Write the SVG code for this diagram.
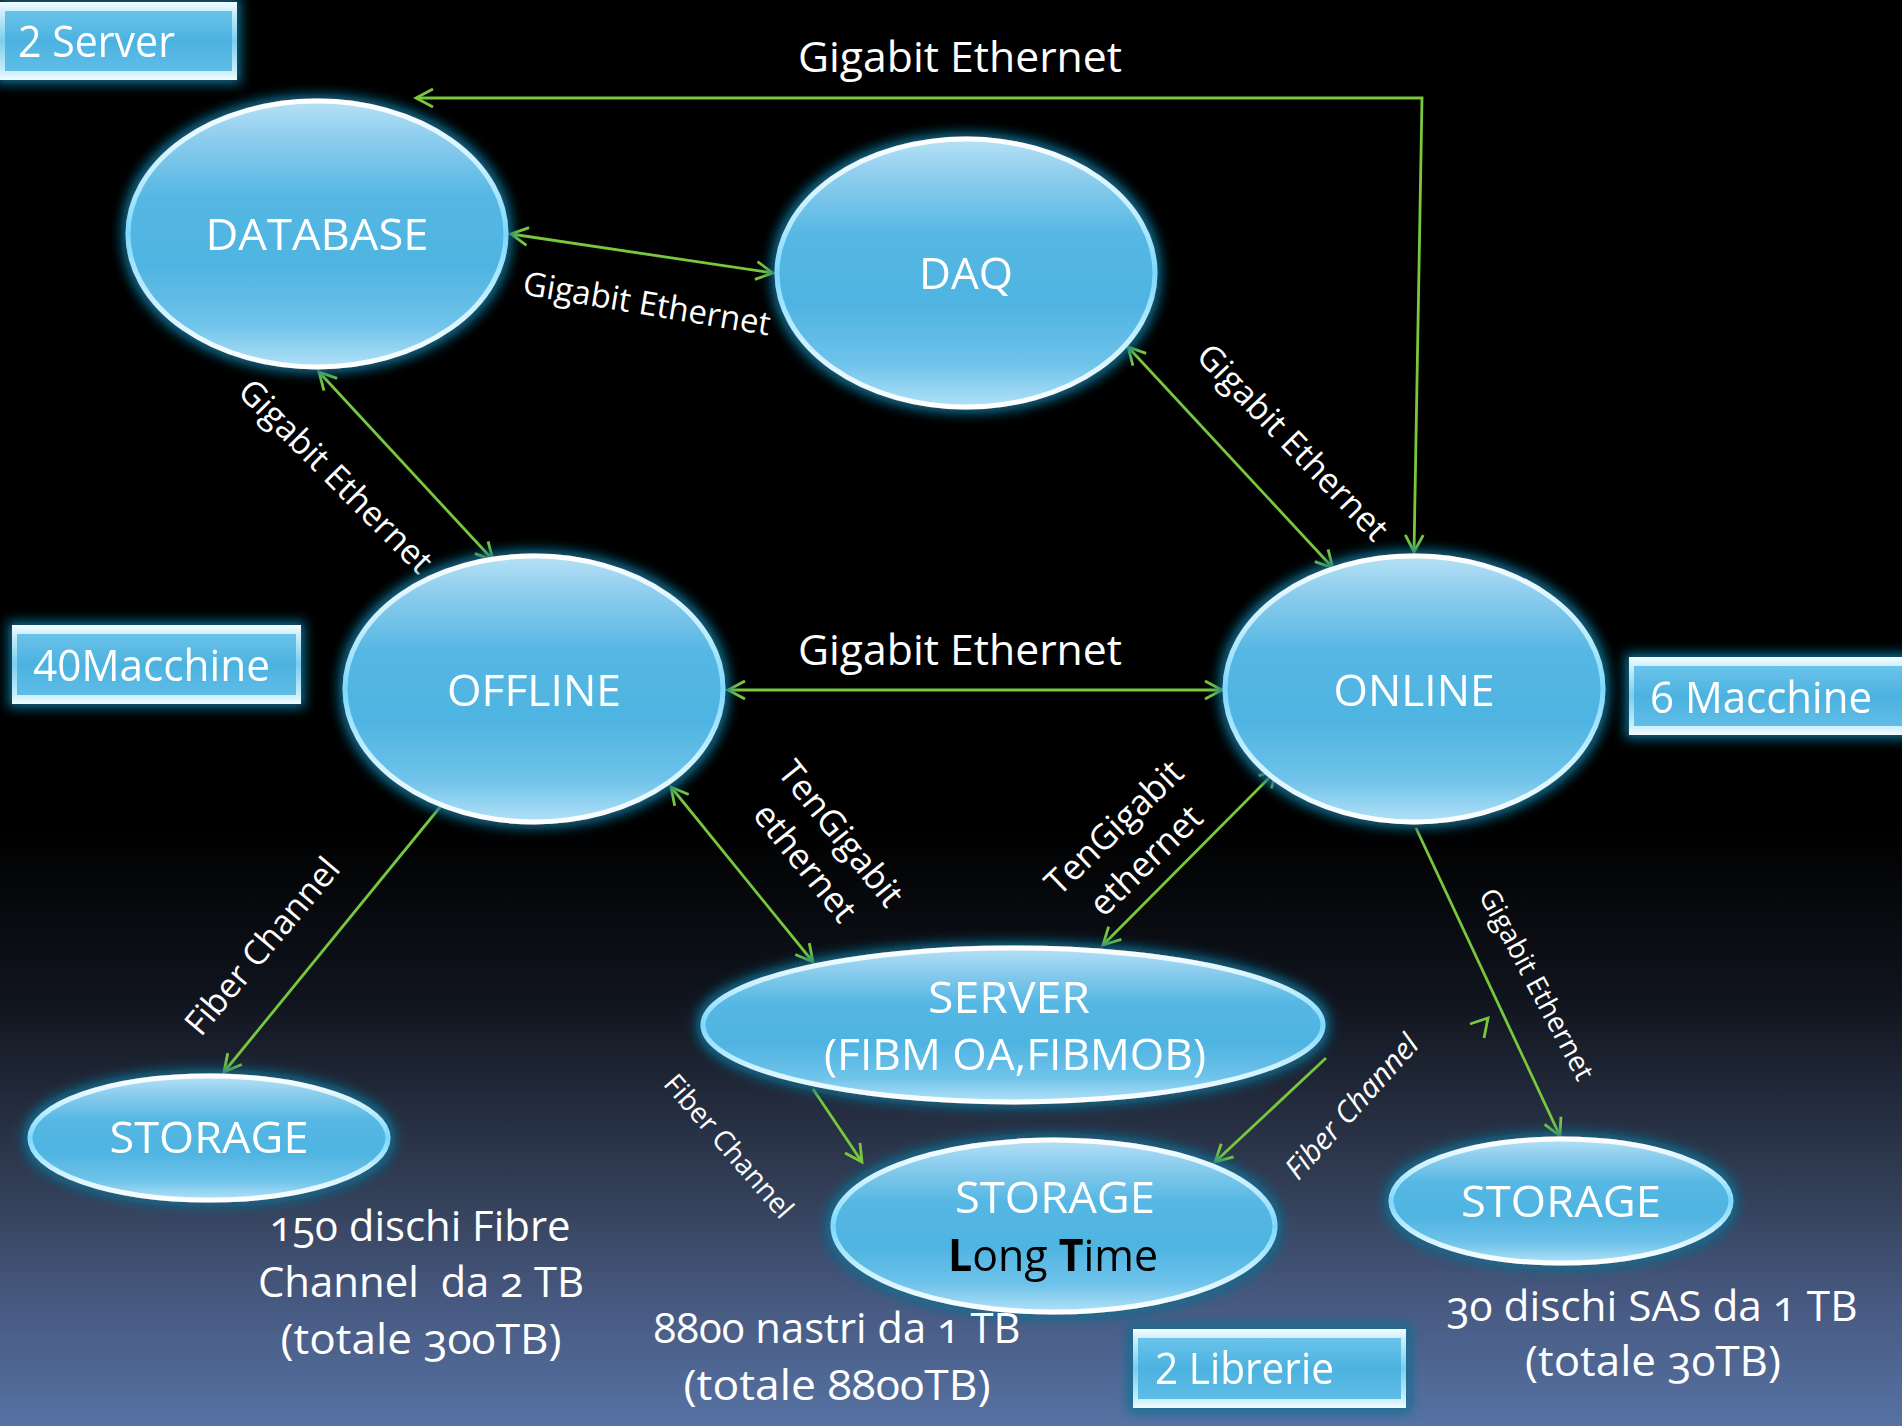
<svg xmlns="http://www.w3.org/2000/svg" width="1902" height="1426" viewBox="0 0 1902 1426">
  <defs>
    <linearGradient id="bg" x1="0" y1="0" x2="0" y2="1">
      <stop offset="0" stop-color="#000000"/>
      <stop offset="0.58" stop-color="#000000"/>
      <stop offset="0.70" stop-color="#10141d"/>
      <stop offset="0.77" stop-color="#222a3b"/>
      <stop offset="0.84" stop-color="#344059"/>
      <stop offset="0.91" stop-color="#46587f"/>
      <stop offset="1" stop-color="#5672a3"/>
    </linearGradient>
    <linearGradient id="ellFill" x1="0" y1="0" x2="0" y2="1">
      <stop offset="0" stop-color="#b6e1f6"/>
      <stop offset="0.14" stop-color="#8dcdee"/>
      <stop offset="0.36" stop-color="#55b7e3"/>
      <stop offset="0.62" stop-color="#4fb4e1"/>
      <stop offset="0.84" stop-color="#6fc3ea"/>
      <stop offset="1" stop-color="#b2e1f7"/>
    </linearGradient>
    <linearGradient id="rim" x1="0" y1="0" x2="0" y2="1">
      <stop offset="0" stop-color="#ffffff"/>
      <stop offset="0.25" stop-color="#c8f0ff"/>
      <stop offset="0.5" stop-color="#7cd8ff"/>
      <stop offset="0.75" stop-color="#c8f0ff"/>
      <stop offset="1" stop-color="#ffffff"/>
    </linearGradient>
    <linearGradient id="boxOuter" x1="0" y1="0" x2="0" y2="1">
      <stop offset="0" stop-color="#f4fcff"/>
      <stop offset="0.14" stop-color="#c9eefb"/>
      <stop offset="0.5" stop-color="#7ccdee"/>
      <stop offset="0.86" stop-color="#c4ecfb"/>
      <stop offset="1" stop-color="#f0fbff"/>
    </linearGradient>
    <linearGradient id="boxInner" x1="0" y1="0" x2="0" y2="1">
      <stop offset="0" stop-color="#6ac3ea"/>
      <stop offset="0.5" stop-color="#4cb2df"/>
      <stop offset="1" stop-color="#5fbde7"/>
    </linearGradient>
    <filter id="glow" x="-20%" y="-30%" width="140%" height="160%">
      <feMorphology in="SourceAlpha" operator="dilate" radius="4" result="d"/>
      <feGaussianBlur in="d" stdDeviation="6" result="b"/>
      <feFlood flood-color="#0e6d90" flood-opacity="0.95"/>
      <feComposite in2="b" operator="in" result="g"/>
      <feMerge>
        <feMergeNode in="g"/>
        <feMergeNode in="SourceGraphic"/>
      </feMerge>
    </filter>
    <marker id="arr" viewBox="-22 -14 28 28" refX="0" refY="0" markerWidth="28" markerHeight="28"
            markerUnits="userSpaceOnUse" orient="auto-start-reverse" overflow="visible">
      <path d="M-17,-9 L0,0 L-17,9" fill="none" stroke="#78c83e" stroke-width="2.8"/>
    </marker>
    <style>
      .node ellipse { fill: url(#ellFill); stroke: url(#rim); stroke-width: 5; }
      .box .outer { fill: url(#boxOuter); }
      .box .inner { fill: url(#boxInner); }
      .lbl { font-family: "Open Sans", "DejaVu Sans", sans-serif; fill: #ffffff; font-size: 44px; }
      .dark { fill: #000000; }
      .note { font-family: "Open Sans", "DejaVu Sans", sans-serif; fill: #ffffff; font-size: 42px; font-feature-settings: "onum" 1; }
      .edge { font-family: "Open Sans", "DejaVu Sans", sans-serif; fill: #ffffff; }
      .conn { fill: none; stroke: #78c83e; stroke-width: 2.8; }
    </style>
  </defs>

  <rect x="0" y="0" width="1902" height="1426" fill="url(#bg)"/>

  <!-- connectors -->
  <g id="connectors">
    <path class="conn" d="M416,98 L1422,98 L1414,552" marker-start="url(#arr)" marker-end="url(#arr)"/>
    <line class="conn" x1="511" y1="234" x2="773" y2="273" marker-start="url(#arr)" marker-end="url(#arr)"/>
    <line class="conn" x1="319" y1="372" x2="493" y2="560" marker-start="url(#arr)" marker-end="url(#arr)"/>
    <line class="conn" x1="1128" y1="347" x2="1333" y2="568" marker-start="url(#arr)" marker-end="url(#arr)"/>
    <line class="conn" x1="728" y1="690" x2="1222" y2="690" marker-start="url(#arr)" marker-end="url(#arr)"/>
    <line class="conn" x1="671" y1="787" x2="813" y2="962" marker-start="url(#arr)" marker-end="url(#arr)"/>
    <line class="conn" x1="1277" y1="770" x2="1103" y2="945" marker-start="url(#arr)" marker-end="url(#arr)"/>
    <line class="conn" x1="445" y1="801" x2="224" y2="1072" marker-end="url(#arr)"/>
    <line class="conn" x1="813" y1="1089" x2="862" y2="1162" marker-end="url(#arr)"/>
    <line class="conn" x1="1326" y1="1058" x2="1215" y2="1162" marker-end="url(#arr)"/>
    <line class="conn" x1="1416" y1="828" x2="1560" y2="1136" marker-end="url(#arr)"/>
    <polyline class="conn" points="1470,1024 1488,1018 1484,1038"/>

    <!-- connector labels -->
    <text class="edge" x="798" y="72" font-size="42" textLength="324" lengthAdjust="spacingAndGlyphs">Gigabit Ethernet</text>
    <text class="edge" x="798" y="665" font-size="42" textLength="324" lengthAdjust="spacingAndGlyphs">Gigabit Ethernet</text>
    <text class="edge" x="647" y="315" font-size="33" text-anchor="middle" transform="rotate(9.5 647 303)">Gigabit Ethernet</text>
    <text class="edge" x="336" y="488" font-size="34" text-anchor="middle" transform="rotate(45 336 476)">Gigabit Ethernet</text>
    <text class="edge" x="1293" y="454" font-size="34" text-anchor="middle" transform="rotate(46 1293 442)">Gigabit Ethernet</text>
    <text class="edge" x="1537" y="994" font-size="28" text-anchor="middle" transform="rotate(62 1537 984)">Gigabit Ethernet</text>
    <g transform="rotate(51 823 848)">
      <text class="edge" x="823" y="837" font-size="35" text-anchor="middle">TenGigabit</text>
      <text class="edge" x="823" y="883" font-size="35" text-anchor="middle">ethernet</text>
    </g>
    <g transform="rotate(-44 1130 844)">
      <text class="edge" x="1130" y="833" font-size="35" text-anchor="middle">TenGigabit</text>
      <text class="edge" x="1130" y="879" font-size="35" text-anchor="middle">ethernet</text>
    </g>
    <text class="edge" x="262" y="958" font-size="34" text-anchor="middle" transform="rotate(-50 262 946)">Fiber Channel</text>
    <text class="edge" x="729" y="1156" font-size="28" text-anchor="middle" transform="rotate(49 729 1146)">Fiber Channel</text>
    <text class="edge" x="1352" y="1117" font-size="30" font-style="italic" text-anchor="middle" transform="rotate(-48 1352 1107)">Fiber Channel</text>
  </g>

  <!-- nodes -->
  <g id="database" class="node" filter="url(#glow)">
    <ellipse cx="317" cy="234" rx="189" ry="133"/>
    <text class="lbl" x="317" y="250" text-anchor="middle" textLength="223" lengthAdjust="spacingAndGlyphs">DATABASE</text>
  </g>
  <g id="daq" class="node" filter="url(#glow)">
    <ellipse cx="966" cy="273" rx="189" ry="134"/>
    <text class="lbl" x="966" y="289" text-anchor="middle">DAQ</text>
  </g>
  <g id="offline" class="node" filter="url(#glow)">
    <ellipse cx="534" cy="689" rx="189" ry="133"/>
    <text class="lbl" x="534" y="706" text-anchor="middle" textLength="174" lengthAdjust="spacingAndGlyphs">OFFLINE</text>
  </g>
  <g id="online" class="node" filter="url(#glow)">
    <ellipse cx="1414" cy="689" rx="189" ry="133"/>
    <text class="lbl" x="1414" y="706" text-anchor="middle" textLength="161" lengthAdjust="spacingAndGlyphs">ONLINE</text>
  </g>
  <g id="server" class="node" filter="url(#glow)">
    <ellipse cx="1013" cy="1025" rx="310" ry="77"/>
    <text class="lbl" x="1009" y="1013" text-anchor="middle" textLength="162" lengthAdjust="spacingAndGlyphs">SERVER</text>
    <text class="lbl" x="1015" y="1070" text-anchor="middle" textLength="382" lengthAdjust="spacingAndGlyphs">(FIBM OA,FIBMOB)</text>
  </g>
  <g id="storage-fc" class="node" filter="url(#glow)">
    <ellipse cx="209" cy="1138" rx="179" ry="62"/>
    <text class="lbl" x="209" y="1153" text-anchor="middle" textLength="199" lengthAdjust="spacingAndGlyphs">STORAGE</text>
  </g>
  <g id="storage-longtime" class="node" filter="url(#glow)">
    <ellipse cx="1054" cy="1226" rx="221" ry="86"/>
    <text class="lbl" x="1055" y="1213" text-anchor="middle" textLength="200" lengthAdjust="spacingAndGlyphs">STORAGE</text>
    <text class="lbl dark" x="1053" y="1271" text-anchor="middle" textLength="210" lengthAdjust="spacingAndGlyphs"><tspan font-weight="bold">L</tspan>ong <tspan font-weight="bold">T</tspan>ime</text>
  </g>
  <g id="storage-sas" class="node" filter="url(#glow)">
    <ellipse cx="1561" cy="1201" rx="170" ry="62"/>
    <text class="lbl" x="1561" y="1217" text-anchor="middle" textLength="200" lengthAdjust="spacingAndGlyphs">STORAGE</text>
  </g>

  <!-- count boxes -->
  <g id="box-server" class="box" filter="url(#glow)">
    <rect class="outer" x="0" y="2" width="237" height="78"/>
    <rect class="inner" x="5" y="11" width="227" height="60"/>
    <text class="lbl" x="18" y="57" font-size="41" textLength="157" lengthAdjust="spacingAndGlyphs">2 Server</text>
  </g>
  <g id="box-offline" class="box" filter="url(#glow)">
    <rect class="outer" x="12" y="625" width="289" height="79"/>
    <rect class="inner" x="17" y="634" width="279" height="61"/>
    <text class="lbl" x="33" y="681" font-size="42" textLength="237" lengthAdjust="spacingAndGlyphs">40Macchine</text>
  </g>
  <g id="box-online" class="box" filter="url(#glow)">
    <rect class="outer" x="1629" y="657" width="280" height="78"/>
    <rect class="inner" x="1634" y="666" width="272" height="60"/>
    <text class="lbl" x="1650" y="713" font-size="42" textLength="222" lengthAdjust="spacingAndGlyphs">6 Macchine</text>
  </g>
  <g id="box-librerie" class="box" filter="url(#glow)">
    <rect class="outer" x="1133" y="1329" width="273" height="79"/>
    <rect class="inner" x="1138" y="1338" width="263" height="61"/>
    <text class="lbl" x="1155" y="1384" font-size="41" textLength="179" lengthAdjust="spacingAndGlyphs">2 Librerie</text>
  </g>

  <!-- capacity notes -->
  <g id="note-fc">
    <text class="note" x="420" y="1241" text-anchor="middle" textLength="301" lengthAdjust="spacingAndGlyphs">150 dischi Fibre</text>
    <text class="note" x="421" y="1297" text-anchor="middle" textLength="326" lengthAdjust="spacingAndGlyphs" xml:space="preserve">Channel  da 2 TB</text>
    <text class="note dark" x="421" y="1354" text-anchor="middle" textLength="281" lengthAdjust="spacingAndGlyphs">(totale 300TB)</text>
  </g>
  <g id="note-tape">
    <text class="note" x="837" y="1343" text-anchor="middle" textLength="367" lengthAdjust="spacingAndGlyphs">8800 nastri da 1 TB</text>
    <text class="note dark" x="837" y="1400" text-anchor="middle" textLength="307" lengthAdjust="spacingAndGlyphs">(totale 8800TB)</text>
  </g>
  <g id="note-sas">
    <text class="note" x="1652" y="1321" text-anchor="middle" textLength="411" lengthAdjust="spacingAndGlyphs">30 dischi SAS da 1 TB</text>
    <text class="note dark" x="1653" y="1376" text-anchor="middle" textLength="256" lengthAdjust="spacingAndGlyphs">(totale 30TB)</text>
  </g>
</svg>
